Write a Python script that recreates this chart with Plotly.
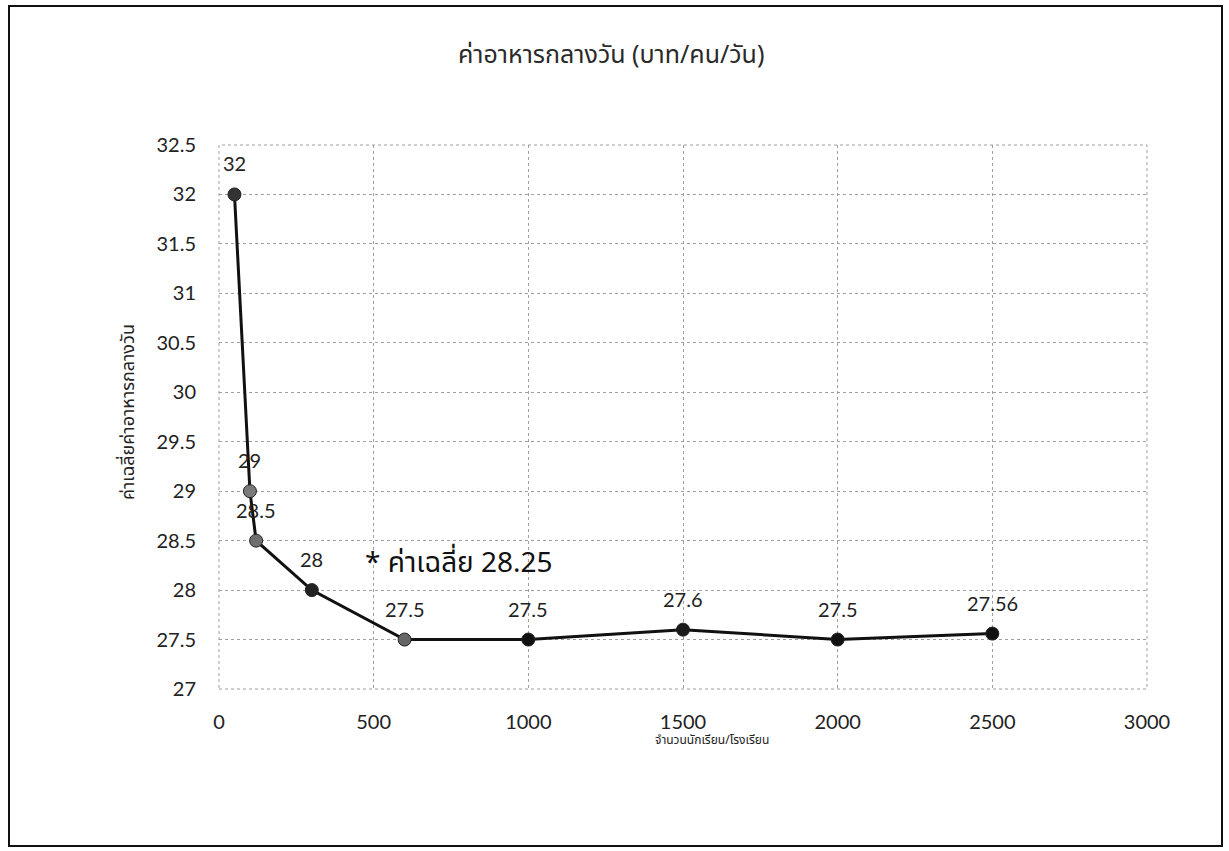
import plotly.graph_objects as go

# ---- data ----
students = [50, 100, 120, 300, 600, 1000, 1500, 2000, 2500]
lunch_cost = [32, 29, 28.5, 28, 27.5, 27.5, 27.6, 27.5, 27.56]
point_labels = ["32", "29", "28.5", "28", "27.5", "27.5", "27.6", "27.5", "27.56"]
x_ticks = [0, 500, 1000, 1500, 2000, 2500, 3000]
y_ticks = [27, 27.5, 28, 28.5, 29, 29.5, 30, 30.5, 31, 31.5, 32, 32.5]
y_tick_text = ["27", "27.5", "28", "28.5", "29", "29.5", "30", "30.5", "31", "31.5", "32", "32.5"]
title_text = "ค่าอาหารกลางวัน (บาท/คน/วัน)"
x_title = "จำนวนนักเรียน/โรงเรียน"
y_title = "ค่าเฉลี่ยค่าอาหารกลางวัน"
avg_text = "* ค่าเฉลี่ย 28.25"
avg_pos = (465, 28.27)

# ---- style ----
W, H = 1229, 851
L, R, T, B = 219, 1147, 145, 689
marker_colors = ["#333333", "#7a7a7a", "#707070", "#222222", "#666666",
                 "#111111", "#1a1a1a", "#111111", "#111111"]
num_font = "Lato, 'Open Sans', sans-serif"
thai_font = "'Noto Sans Thai', 'Noto Sans', Tahoma, sans-serif"

fig = go.Figure()
fig.add_trace(go.Scatter(
    x=students, y=lunch_cost, mode="lines+markers",
    line=dict(color="#111111", width=3),
    marker=dict(size=13, color=marker_colors, line=dict(color="#222222", width=1)),
    showlegend=False, hoverinfo="x+y",
))

annotations = []
for xv, yv, t in zip(students, lunch_cost, point_labels):
    annotations.append(dict(x=xv, y=yv, xref="x", yref="y", text=t, showarrow=False,
                            yshift=31, font=dict(family=num_font, size=20, color="#222222")))

annotations.append(dict(x=avg_pos[0], y=avg_pos[1], xref="x", yref="y", text=avg_text,
                        showarrow=False, xanchor="left", yanchor="middle",
                        font=dict(family=thai_font, size=28, color="#111111")))

def px2paper_x(px):
    return (px - L) / (R - L)

def px2paper_y(py):
    return (B - py) / (B - T)

annotations.append(dict(x=px2paper_x(611), y=px2paper_y(55), xref="paper", yref="paper",
                        text=title_text, showarrow=False, xanchor="center", yanchor="middle",
                        font=dict(family=thai_font, size=25, color="#2a2a2a")))
annotations.append(dict(x=px2paper_x(712), y=px2paper_y(740), xref="paper", yref="paper",
                        text=x_title, showarrow=False, xanchor="center", yanchor="middle",
                        font=dict(family=thai_font, size=12, color="#222222")))
annotations.append(dict(x=px2paper_x(128), y=px2paper_y(412), xref="paper", yref="paper",
                        text=y_title, showarrow=False, textangle=-90,
                        xanchor="center", yanchor="middle",
                        font=dict(family=thai_font, size=18, color="#222222")))

fig.update_layout(
    width=W, height=H,
    margin=dict(l=L, r=W - R, t=T, b=H - B, pad=0),
    paper_bgcolor="white", plot_bgcolor="white",
    annotations=annotations,
    shapes=[
        dict(type="rect", xref="paper", yref="paper", x0=0, x1=1, y0=0, y1=1,
             line=dict(color="#a0a0a0", width=1, dash="dot"), layer="below"),
        dict(type="rect", xref="paper", yref="paper",
             x0=px2paper_x(9), x1=px2paper_x(1222),
             y0=px2paper_y(846), y1=px2paper_y(6),
             line=dict(color="#111111", width=2), layer="above"),
    ],
)
fig.update_xaxes(
    range=[0, 3000], tickvals=x_ticks, ticktext=[str(v) for v in x_ticks],
    showgrid=True, gridcolor="#a0a0a0", griddash="dot", gridwidth=1,
    zeroline=False, showline=False, ticks="", ticklabelstandoff=19,
    tickfont=dict(family=num_font, size=20, color="#222222"),
)
fig.update_yaxes(
    range=[27, 32.5], tickvals=y_ticks, ticktext=y_tick_text,
    showgrid=True, gridcolor="#a0a0a0", griddash="dot", gridwidth=1,
    zeroline=False, showline=False, ticks="", ticklabelstandoff=22,
    tickfont=dict(family=num_font, size=20, color="#222222"),
)

fig.write_html("out.html", config={"displayModeBar": False},
               post_script="document.body.style.margin='0';")
